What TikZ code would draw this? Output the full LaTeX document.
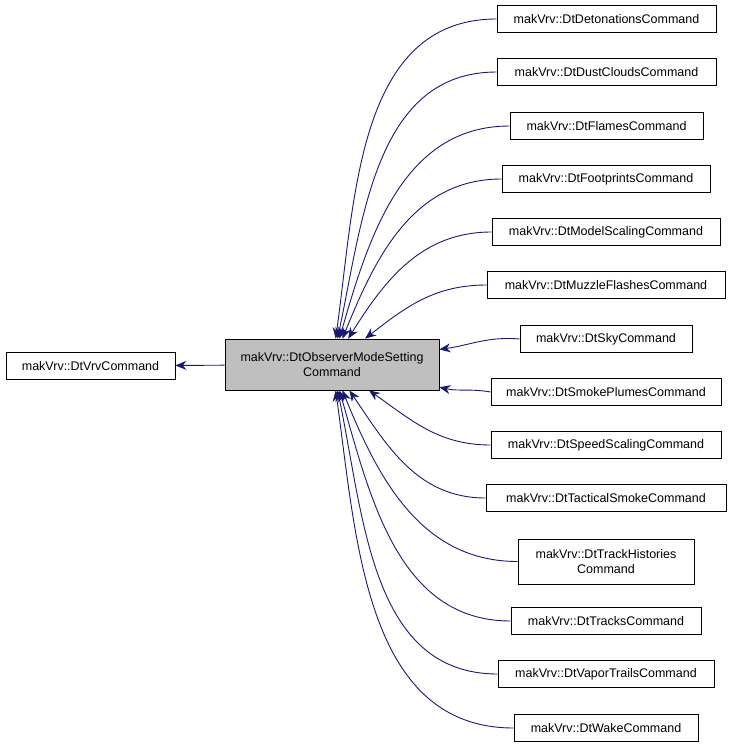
\documentclass[tikz,border=0pt]{standalone}
\usepackage{fontspec}
\setmainfont{Liberation Sans}
\usetikzlibrary{arrows.meta}
\definecolor{edgeblue}{HTML}{191970}
\definecolor{basegray}{HTML}{BFBFBF}
\tikzset{
  cls/.style={draw=black,line width=0.8pt,fill=white,minimum height=27pt,inner sep=2pt,font=\fontsize{12.5}{14.5}\selectfont,align=center},
  edge/.style={draw=edgeblue,line width=0.9pt,-{Stealth[length=11pt,width=9pt]}}
}
\begin{document}
\begin{tikzpicture}[x=1pt,y=-1pt]
    \useasboundingbox (0,0) rectangle (731,749);
    %Base classes
    \node[cls, minimum width=169pt] (vrv) at (90.5,366) {makVrv::DtVrvCommand};
    \node[cls, fill=basegray, minimum width=214pt, minimum height=51pt] (obs) at (332,364.5) {makVrv::DtObserverModeSetting\\Command};

    %Derived classes
    \node[cls, minimum width=219pt] (det)   at (606.5,19)  {makVrv::DtDetonationsCommand};
    \node[cls, minimum width=219pt] (dust)  at (606.5,72)  {makVrv::DtDustCloudsCommand};
    \node[cls, minimum width=193pt] (flame) at (606.5,126) {makVrv::DtFlamesCommand};
    \node[cls, minimum width=208pt] (foot)  at (606,179)   {makVrv::DtFootprintsCommand};
    \node[cls, minimum width=228pt] (model) at (606,232)   {makVrv::DtModelScalingCommand};
    \node[cls, minimum width=238pt] (muzz)  at (606,285)   {makVrv::DtMuzzleFlashesCommand};
    \node[cls, minimum width=172pt] (sky)   at (606,339)   {makVrv::DtSkyCommand};
    \node[cls, minimum width=230pt] (smoke) at (606,392)   {makVrv::DtSmokePlumesCommand};
    \node[cls, minimum width=230pt] (speed) at (606,445)   {makVrv::DtSpeedScalingCommand};
    \node[cls, minimum width=240pt] (tact)  at (606,498)   {makVrv::DtTacticalSmokeCommand};
    \node[cls, minimum width=176pt, minimum height=45pt] (hist) at (606,561.5) {makVrv::DtTrackHistories\\Command};
    \node[cls, minimum width=190pt] (track) at (606,621)   {makVrv::DtTracksCommand};
    \node[cls, minimum width=216pt] (vapor) at (606,674)   {makVrv::DtVaporTrailsCommand};
    \node[cls, minimum width=184pt] (wake)  at (606,728)   {makVrv::DtWakeCommand};

    %Inheritance edges
    \draw[edge] (obs) -- (vrv);
    \draw[edge] (det.west)   to[out=180,in=82] (obs);
    \draw[edge] (dust.west)  to[out=180,in=78] (obs);
    \draw[edge] (flame.west) to[out=180,in=74] (obs);
    \draw[edge] (foot.west)  to[out=180,in=68] (obs);
    \draw[edge] (model.west) to[out=180,in=58] (obs);
    \draw[edge] (muzz.west)  to[out=180,in=38] (obs);
    \draw[edge] (sky.west)   to[out=175,in=8] (obs);
    \draw[edge] (smoke.west) to[out=170,in=-12] (obs);
    \draw[edge] (speed.west) to[out=180,in=-35] (obs);
    \draw[edge] (tact.west)  to[out=180,in=-56] (obs);
    \draw[edge] (hist.west)  to[out=180,in=-68] (obs);
    \draw[edge] (track.west) to[out=180,in=-74] (obs);
    \draw[edge] (vapor.west) to[out=180,in=-78] (obs);
    \draw[edge] (wake.west)  to[out=180,in=-82] (obs);
\end{tikzpicture}
\end{document}
